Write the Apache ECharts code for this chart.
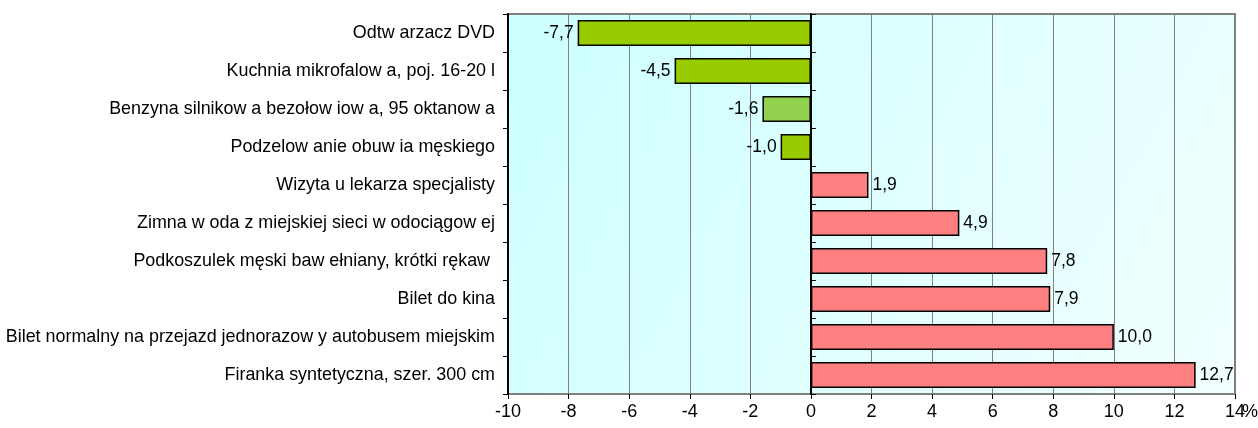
<!DOCTYPE html>
<html>
<head>
<meta charset="utf-8">
<script src="https://cdn.jsdelivr.net/npm/echarts@6/dist/echarts.min.js"></script>
<style>html,body{margin:0;padding:0;background:#fff}#c{width:1258px;height:428px}</style>
</head>
<body>
<div id="c"></div>
<script>
var categories = [
  "Odtw arzacz DVD",
  "Kuchnia mikrofalow a, poj. 16-20 l",
  "Benzyna silnikow a bezołow iow a, 95 oktanow a",
  "Podzelow anie obuw ia męskiego",
  "Wizyta u lekarza specjalisty",
  "Zimna w oda z miejskiej sieci w odociągow ej",
  "Podkoszulek męski baw ełniany, krótki rękaw ",
  "Bilet do kina",
  "Bilet normalny na przejazd jednorazow y autobusem miejskim",
  "Firanka syntetyczna, szer. 300 cm"
];
var values = [-7.7, -4.5, -1.6, -1.0, 1.9, 4.9, 7.8, 7.9, 10.0, 12.7];
var barColors = ["#99CC00", "#99CC00", "#92D050", "#99CC00", "#FF8080", "#FF8080", "#FF8080", "#FF8080", "#FF8080", "#FF8080"];
var xTicks = { min: -10, max: 14, interval: 2 };
var unitLabel = "%";

var chart = echarts.init(document.getElementById('c'));
var font = 'Arial, "Liberation Sans", sans-serif';
var narrow = '"Liberation Sans Narrow", "Arial Narrow", Arial, "Liberation Sans", sans-serif';
chart.setOption({
  animation: false,
  grid: {
    left: 508, right: 23, top: 14, bottom: 34,
    outerBoundsMode: 'none',
    containLabel: false,
    show: true,
    borderColor: '#808080', borderWidth: 2,
    backgroundColor: {
      type: 'linear', x: 0, y: 0, x2: 1, y2: 1,
      colorStops: [{offset: 0, color: '#CCFFFF'}, {offset: 1, color: '#F2FFFF'}]
    }
  },
  xAxis: {
    type: 'value', min: xTicks.min, max: xTicks.max, interval: xTicks.interval,
    name: unitLabel, nameLocation: 'end', nameGap: 7, nameMoveOverlap: false,
    nameTextStyle: {color: '#000', fontSize: 18, fontFamily: narrow, verticalAlign: 'top', align: 'left', padding: [9, 0, 0, 0]},
    axisLine: {onZero: false, lineStyle: {color: '#000', width: 2}},
    axisTick: {show: true, length: 5, lineStyle: {color: '#000'}},
    axisLabel: {color: '#000', fontSize: 18, fontFamily: narrow, margin: 9,
      formatter: function (v) { return String(v); }},
    splitLine: {show: true, lineStyle: {color: '#808080', width: 1}}
  },
  yAxis: [{
    type: 'category', data: categories, inverse: true,
    axisLine: {show: false, onZero: false},
    axisTick: {show: false},
    axisLabel: {color: '#000', fontSize: 17.9, fontFamily: font, margin: 13}
  }, {
    type: 'category', data: categories, inverse: true, position: 'left',
    axisLine: {show: true, onZero: true, lineStyle: {color: '#000', width: 2}},
    axisTick: {show: true, inside: true, length: 5, lineStyle: {color: '#000'}},
    axisLabel: {show: false}
  }, {
    type: 'category', data: categories, inverse: true, position: 'left',
    axisLine: {show: true, onZero: true, lineStyle: {color: '#000', width: 2}},
    axisTick: {show: true, inside: false, length: 5, lineStyle: {color: '#000'}},
    axisLabel: {show: false}
  }],
  series: [{
    type: 'bar',
    yAxisIndex: 0,
    barCategoryGap: '31%',
    data: values.map(function (v, i) {
      return {value: v, itemStyle: {color: barColors[i], borderColor: '#000', borderWidth: 1.5},
        label: {position: v < 0 ? 'left' : 'right'}};
    }),
    label: {
      show: true, color: '#000', fontSize: 17.5, fontFamily: font, distance: 4,
      formatter: function (p) { return p.value.toFixed(1).replace('.', ','); }
    }
  }]
});
</script>
</body>
</html>
